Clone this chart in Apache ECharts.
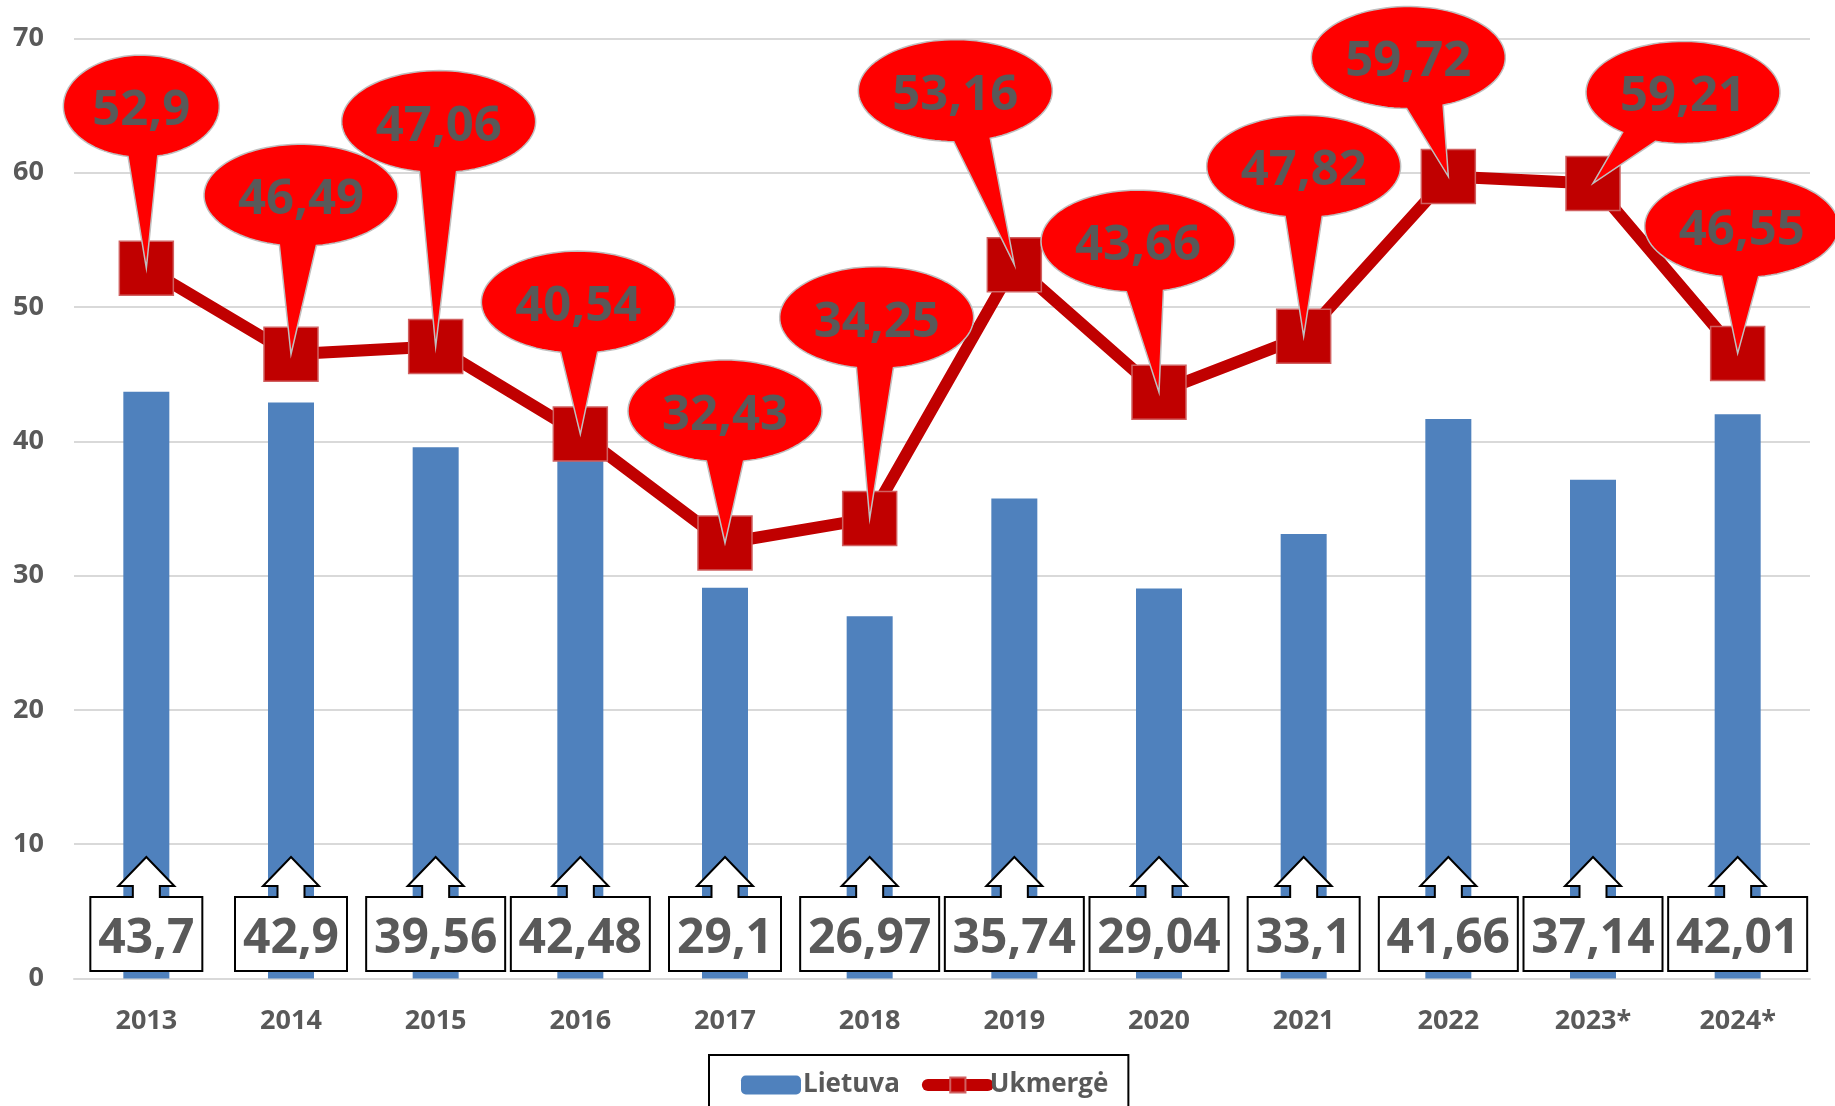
<!DOCTYPE html>
<html>
<head>
<meta charset="utf-8">
<script src="https://cdn.jsdelivr.net/npm/echarts@6/dist/echarts.min.js"></script>
<style>
  html, body { margin: 0; padding: 0; background: #fff; }
  #chart { width: 1835px; height: 1106px; }
</style>
</head>
<body>
<div id="chart"></div>
<script>
const categories = ['2013', '2014', '2015', '2016', '2017', '2018', '2019', '2020', '2021', '2022', '2023*', '2024*'];
const lietuva = [43.7, 42.9, 39.56, 42.48, 29.1, 26.97, 35.74, 29.04, 33.1, 41.66, 37.14, 42.01];
const ukmerge = [52.9, 46.49, 47.06, 40.54, 32.43, 34.25, 53.16, 43.66, 47.82, 59.72, 59.21, 46.55];
const yTicks = { min: 0, max: 70, interval: 10 };

// callout balloon placement (pixel offsets of the balloon centre from its point)
const calloutOffsets = [
  [-5, -162], [10, -159], [3, -225], [-2, -132], [0, -132], [7, -201],
  [-59, -174], [-21, -151], [0, -170], [-40, -119], [90, -91], [4, -127]
];

const FONT = '"Open Sans", "Noto Sans", sans-serif';
const TEXT_GRAY = '#595959';

function fmt(v) { return String(v).replace('.', ','); }

function balloonItem(params, api) {
  const i = api.value(0);
  const v = api.value(1);
  const pt = api.coord([i, v]);
  const off = calloutOffsets[i];
  const txt = fmt(v);
  const cx = pt[0] + off[0], cy = pt[1] + off[1];
  const rx = 19 * txt.length + 2, ry = 51;
  const ang = Math.atan2((pt[1] - cy) / ry, (pt[0] - cx) / rx);
  const d = 11 * Math.PI / 180;
  const a1 = ang + d, a2 = ang - d + 2 * Math.PI;
  const pts = [];
  const N = 90;
  for (let k = 0; k <= N; k++) {
    const a = a1 + (a2 - a1) * k / N;
    pts.push([cx + rx * Math.cos(a), cy + ry * Math.sin(a)]);
  }
  pts.push([pt[0], pt[1]]);
  return {
    type: 'group',
    children: [
      { type: 'polygon', shape: { points: pts },
        style: { fill: '#FF0000', stroke: '#BFBFBF', lineWidth: 1.5 } },
      { type: 'text',
        style: { text: txt, x: cx, y: cy + 5, align: 'center', verticalAlign: 'middle',
                 font: 'bold 49px ' + FONT, fill: TEXT_GRAY } }
    ]
  };
}

function arrowBoxItem(params, api) {
  const i = api.value(0);
  const v = api.value(1);
  const base = api.coord([i, 0]);
  const txt = fmt(v);
  const cx = base[0], y0 = base[1];
  const w = 27 * txt.length + 4;
  const bb = y0 - 7.5, bt = y0 - 81.5, hb = y0 - 92.5, tip = y0 - 121.5;
  const hw = 28, sw = 13.5;
  const pts = [
    [cx, tip], [cx + hw, hb], [cx + sw, hb], [cx + sw, bt], [cx + w / 2, bt],
    [cx + w / 2, bb], [cx - w / 2, bb], [cx - w / 2, bt], [cx - sw, bt],
    [cx - sw, hb], [cx - hw, hb]
  ];
  return {
    type: 'group',
    children: [
      { type: 'polygon', shape: { points: pts },
        style: { fill: '#FFFFFF', stroke: '#000000', lineWidth: 2 } },
      { type: 'text',
        style: { text: txt, x: cx, y: (bt + bb) / 2 + 5, align: 'center', verticalAlign: 'middle',
                 font: 'bold 48px ' + FONT, fill: TEXT_GRAY } }
    ]
  };
}

const chart = echarts.init(document.getElementById('chart'), null, { renderer: 'canvas' });
chart.setOption({
  animation: false,
  backgroundColor: '#ffffff',
  textStyle: { fontFamily: FONT },
  grid: { left: 74, right: 25, top: 38.5, bottom: 127.5 },
  xAxis: {
    type: 'category',
    data: categories,
    boundaryGap: true,
    axisLine: { show: true, lineStyle: { color: '#D9D9D9', width: 2 } },
    axisTick: { show: false },
    axisLabel: { color: TEXT_GRAY, fontWeight: 'bold', fontSize: 27, fontFamily: FONT, margin: 29 }
  },
  yAxis: {
    type: 'value',
    min: yTicks.min, max: yTicks.max, interval: yTicks.interval,
    axisLine: { show: false },
    axisTick: { show: false },
    splitLine: { lineStyle: { color: '#D9D9D9', width: 2 } },
    axisLabel: { color: TEXT_GRAY, fontWeight: 'bold', fontSize: 27, fontFamily: FONT, margin: 30 }
  },
  legend: {
    data: ['Lietuva', 'Ukmergė'],
    left: 709, top: 1055,
    padding: [17, 20, 30, 32],
    itemGap: 22,
    itemWidth: 60, itemHeight: 19,
    borderColor: '#000000', borderWidth: 2,
    lineStyle: { width: 12, cap: 'round' },
    textStyle: { color: TEXT_GRAY, fontWeight: 'bold', fontSize: 26, fontFamily: FONT, padding: [0, 0, 0, -3] }
  },
  series: [
    {
      name: 'Lietuva', type: 'bar', data: lietuva, barWidth: 46, z: 2,
      itemStyle: { color: '#4F81BD' }
    },
    {
      name: 'Ukmergė', type: 'line', data: ukmerge, z: 3,
      symbol: 'rect', symbolSize: 54,
      lineStyle: { color: '#C00000', width: 12 },
      itemStyle: { color: '#C00000', borderColor: '#D06060', borderWidth: 1.5 }
    },
    {
      name: 'boxes', type: 'custom', coordinateSystem: 'cartesian2d', z: 5, clip: false,
      data: lietuva.map((v, i) => [i, v]),
      encode: { x: 0, y: 1 },
      renderItem: arrowBoxItem
    },
    {
      name: 'balloons', type: 'custom', coordinateSystem: 'cartesian2d', z: 6, clip: false,
      data: ukmerge.map((v, i) => [i, v]),
      encode: { x: 0, y: 1 },
      renderItem: balloonItem
    }
  ]
});
</script>
</body>
</html>
